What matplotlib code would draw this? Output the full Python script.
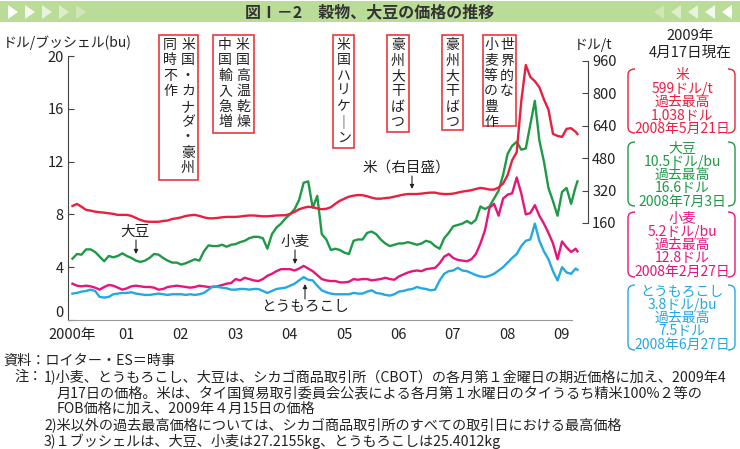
import numpy as np
import matplotlib
matplotlib.use('Agg')
import matplotlib.pyplot as plt
from matplotlib.patches import FancyBboxPatch, Rectangle, Polygon, FancyArrowPatch, PathPatch
from matplotlib.path import Path
from matplotlib.transforms import IdentityTransform

plt.rcParams['font.family'] = ['Noto Sans CJK JP', 'DejaVu Sans']

W, H = 740, 449

# ---------------- data ----------------
year_ticks = list(range(2000, 2010))
year_labels = ['2000年', '01', '02', '03', '04', '05', '06', '07', '08', '09']
left_ticks = [0, 4, 8, 12, 16, 20]
right_ticks = [160, 320, 480, 640, 800, 960]

# rice (USD/t, right axis), monthly Jan 2000 - Apr 2009 + 2009-04-15
rice = [244, 254, 240, 225, 221, 216, 213, 211, 208, 205, 200, 200,
        200, 195, 185, 175, 168, 166, 166, 166, 170, 172, 180, 183,
        188, 195, 198, 200, 195, 188, 183, 183, 185, 188, 190, 190,
        190, 192, 195, 197, 197, 195, 193, 193, 195, 197, 198, 198,
        205, 215, 228, 235, 240, 238, 232, 228, 230, 238, 255, 270,
        280, 290, 295, 298, 297, 292, 285, 280, 280, 283, 285, 290,
        295, 300, 303, 303, 303, 305, 308, 310, 310, 305, 303, 303,
        305, 310, 315, 318, 322, 328, 333, 330, 325, 325, 335, 355,
        397, 470, 510, 760, 940, 881, 860, 830, 770, 720, 600, 590,
        585, 625, 628, 610, 599]

# soybean (USD/bu)
soy = [4.65, 5.0, 4.95, 5.35, 5.35, 5.15, 4.8, 4.45, 4.85, 4.75, 4.85, 5.05,
       4.85, 4.7, 4.5, 4.4, 4.5, 4.7, 5.0, 4.95, 4.7, 4.5, 4.35, 4.35,
       4.2, 4.3, 4.45, 4.6, 4.5, 5.2, 5.65, 5.6, 5.6, 5.7, 5.55, 5.7,
       5.75, 5.9, 6.0, 6.2, 6.3, 6.3, 6.2, 5.4, 6.5, 7.0, 7.3, 7.7,
       8.0, 8.4, 9.1, 10.4, 10.5, 8.5, 9.4, 6.5, 6.1, 5.3, 5.4, 5.3,
       5.1, 5.0, 6.0, 6.1, 6.1, 6.6, 6.7, 6.5, 6.1, 5.8, 5.6, 5.7,
       5.8, 5.8, 5.9, 5.8, 5.7, 5.8, 6.0, 5.9, 5.6, 5.4, 6.2, 6.6,
       7.1, 7.2, 7.3, 7.5, 7.3, 7.6, 8.6, 8.4, 8.6, 9.2, 9.8, 11.0,
       12.6, 13.2, 13.5, 12.9, 13.0, 14.8, 16.6, 13.6, 12.0, 10.0, 9.0, 7.9,
       9.7, 10.0, 8.8, 10.1, 10.5]

# wheat (USD/bu)
wheat = [2.75, 2.6, 2.55, 2.6, 2.55, 2.45, 2.3, 2.5, 2.65, 2.6, 2.45, 2.3,
         2.4, 2.55, 2.6, 2.55, 2.5, 2.5, 2.45, 2.3, 2.35, 2.5, 2.55, 2.6,
         2.55, 2.5, 2.45, 2.5, 2.6, 2.55, 2.5, 2.5, 2.55, 2.65, 2.75, 2.8,
         3.1, 3.0, 3.2, 3.1, 3.0, 2.95, 3.1, 3.35, 3.5, 3.7, 3.85, 3.85,
         3.85, 3.75, 3.9, 4.1, 3.9, 3.7, 3.4, 3.1, 3.0, 2.95, 2.95, 2.85,
         2.85, 2.9, 3.1, 3.05, 3.1, 3.1, 3.0, 3.05, 3.1, 3.2, 3.1, 3.05,
         3.3, 3.45, 3.6, 3.7, 3.75, 3.7, 3.85, 3.9, 3.95, 4.3, 4.8, 5.0,
         4.7, 4.55, 4.5, 4.45, 4.6, 5.0, 5.8, 6.8, 8.5, 8.8, 7.9, 9.2,
         9.5, 9.6, 10.8, 9.6, 8.0, 8.1, 8.7, 7.9, 7.3, 6.6, 5.8, 4.6,
         5.95, 5.5, 5.15, 5.4, 5.2]

# corn (USD/bu)
corn = [2.0, 2.05, 2.15, 2.2, 2.3, 2.2, 1.75, 1.7, 1.75, 1.95, 2.0, 2.05,
        2.05, 2.1, 2.0, 1.95, 1.9, 1.9, 1.95, 2.0, 1.95, 1.9, 1.95, 1.95,
        1.95, 1.9, 1.95, 1.9, 1.95, 2.05, 2.3, 2.55, 2.5, 2.45, 2.4, 2.3,
        2.3, 2.35, 2.35, 2.3, 2.35, 2.35, 2.2, 2.05, 2.2, 2.35, 2.4, 2.45,
        2.6, 2.75, 3.0, 3.25, 3.05, 3.0, 2.6, 2.25, 2.1, 2.0, 1.95, 1.95,
        1.95, 1.95, 2.05, 2.0, 2.0, 2.15, 2.25, 2.05, 2.0, 1.9, 1.85, 1.95,
        2.15, 2.2, 2.3, 2.35, 2.5, 2.4, 2.35, 2.25, 2.3, 3.0, 3.5, 3.7,
        3.75, 3.95, 3.75, 3.7, 3.55, 3.4, 3.3, 3.25, 3.35, 3.5, 3.75, 4.0,
        4.35, 4.7, 5.0, 5.6, 6.0, 6.1, 7.3, 6.0, 5.2, 4.6, 3.7, 3.0,
        4.0, 3.6, 3.5, 3.9, 3.8]

t = np.append(2000 + (np.arange(112) + 0.1) / 12, 2009 + 3.5 / 12)

C_RICE = '#e8203f'
C_SOY = '#1e9a46'
C_WHEAT = '#e6157a'
C_CORN = '#22a9e1'
C_BOX = '#e8383d'

fig = plt.figure(figsize=(W / 100, H / 100), dpi=100)
ID = IdentityTransform()


def fx(x):
    return x / W


def fy(y):
    return 1 - y / H


def ftext(x, y, s, **kw):
    kw.setdefault('ha', 'center')
    kw.setdefault('va', 'center')
    return fig.text(fx(x), fy(y), s, **kw)


# ---------------- title banner ----------------
fig.add_artist(Rectangle((0, H - 22), W, 21, transform=ID, fc='#b9dc97', ec='none'))
for i in range(5):
    a = 1.0 - i * 0.17
    cx = 13 + i * 17
    fig.add_artist(Polygon([(cx - 5, H - 5), (cx - 5, H - 19), (cx + 5, H - 12)],
                           closed=True, transform=ID, fc='white', ec='none', alpha=a))
    cx2 = W - 13 - i * 17
    fig.add_artist(Polygon([(cx2 + 5, H - 5), (cx2 + 5, H - 19), (cx2 - 5, H - 12)],
                           closed=True, transform=ID, fc='white', ec='none', alpha=a))
ftext(370, 12, '図Ⅰ－2　穀物、大豆の価格の推移', fontsize=11.5, fontweight='bold', color='#333333')

# ---------------- axes ----------------
ax = fig.add_axes([68 / W, 1 - 320 / H, 520 / W, 264 / H])
ax.set_xlim(2000 - 4 / 54.4, 2000 + 516 / 54.4)
ax.set_ylim(0, 20)
ax2 = ax.twinx()
ax2.set_ylim(-319, 984.5)

ax.plot(t, soy, color=C_SOY, lw=1.7, zorder=3)
ax.plot(t, wheat, color=C_WHEAT, lw=1.7, zorder=3)
ax.plot(t, corn, color=C_CORN, lw=1.7, zorder=3)
ax2.plot(t, rice, color=C_RICE, lw=1.7, zorder=2)

for s in ['top', 'right']:
    ax.spines[s].set_visible(False)
ax.spines['left'].set_color('#444444')
ax.spines['bottom'].set_color('#999999')
ax.spines['bottom'].set_bounds(2000 - 4 / 54.4, 2009.19)
ax.set_yticks(left_ticks)
ax.set_xticks(year_ticks)
ax.set_xticklabels(year_labels)
ax.tick_params(axis='y', direction='in', length=4, width=0.8, color='#444444',
               labelsize=10.5, pad=3, labelcolor='#222222')
ax.tick_params(axis='x', length=0, labelsize=10.5, pad=6, labelcolor='#222222')
# the "0" label sits slightly raised, as in the reference
ax.get_yticklabels()[0].set_verticalalignment('bottom')

for s in ['top', 'left', 'bottom']:
    ax2.spines[s].set_visible(False)
ax2.spines['right'].set_bounds(160, 960)
ax2.spines['right'].set_color('#444444')
ax2.set_yticks(right_ticks)
ax2.tick_params(axis='y', direction='in', length=4, width=0.8, color='#444444',
                labelsize=10.5, pad=3, labelcolor='#222222')
ax.patch.set_visible(False)

# axis unit labels
ftext(3, 43, 'ドル/ブッシェル(bu)', ha='left', fontsize=10, color='#222222')
ftext(593, 45, 'ドル/t', fontsize=10, color='#222222')

# ---------------- event boxes (vertical text) ----------------
def vcol(x, y0, s, dy=15.4, fs=10):
    for i, ch in enumerate(s):
        ftext(x, y0 + i * dy, ch, fontsize=fs, color='#222222')


def rbox(x0, y0, x1, y1, color, lw=1.2):
    p = Rectangle((x0, H - y1), x1 - x0, y1 - y0, transform=ID, fc='none', ec=color, lw=lw)
    fig.add_artist(p)


def brackets(x0, y0, x1, y1, color, r=6, lw=1.0):
    Y0, Y1 = H - y0, H - y1
    for sgn, xe in ((1, x0), (-1, x1)):
        verts = [(xe + sgn * (r + 1), Y0), (xe, Y0), (xe, Y0 - r),
                 (xe, Y1 + r), (xe, Y1), (xe + sgn * (r + 1), Y1)]
        codes = [Path.MOVETO, Path.CURVE3, Path.CURVE3,
                 Path.LINETO, Path.CURVE3, Path.CURVE3]
        fig.add_artist(PathPatch(Path(verts, codes), transform=ID, fc='none',
                                 ec=color, lw=lw))


rbox(159, 35, 198, 180, C_BOX)
vcol(188, 45, '米国・カナダ・豪州')
vcol(170, 45, '同時不作')

rbox(213, 35, 254, 133, C_BOX)
vcol(243, 45, '米国高温乾燥')
vcol(225, 45, '中国輸入急増')

rbox(333, 35, 354, 148, C_BOX)
vcol(343.5, 45, '米国ハリケ｜ン')

rbox(387, 35, 409, 132, C_BOX)
vcol(398, 45, '豪州大干ばつ')

rbox(442, 35, 463, 130, C_BOX)
vcol(452.5, 45, '豪州大干ばつ')

rbox(483, 35, 516, 126, C_BOX)
vcol(507, 45, '世界的な')
vcol(491, 45, '小麦等の豊作')

# ---------------- inline labels ----------------
def arrow(x, y0, y1):
    fig.add_artist(FancyArrowPatch((x, H - y0), (x, H - y1), transform=ID,
                                   arrowstyle='-|>', mutation_scale=6, lw=0.8,
                                   color='#222222', shrinkA=0, shrinkB=0))


ftext(135, 232, '大豆', fontsize=10.5, color='#222222')
arrow(136, 240, 254)
ftext(295, 242, '小麦', fontsize=10.5, color='#222222')
arrow(295, 250, 264)
ftext(305, 307, 'とうもろこし', fontsize=10.5, color='#222222')
arrow(305, 299, 284)
ftext(406, 168, '米（右目盛）', fontsize=10.5, color='#222222')
arrow(412, 176, 189)

# ---------------- right-side legend boxes ----------------
ftext(690, 36, '2009年', fontsize=10.5, color='#222222')
ftext(690, 53, '4月17日現在', fontsize=10.5, color='#222222')

legend_items = [
    (C_RICE, 69, 133, ['米', '599ドル/t', '過去最高', '1,038ドル', '2008年5月21日']),
    (C_SOY, 142, 206, ['大豆', '10.5ドル/bu', '過去最高', '16.6ドル', '2008年7月3日']),
    (C_WHEAT, 212, 277, ['小麦', '5.2ドル/bu', '過去最高', '12.8ドル', '2008年2月27日']),
    (C_CORN, 285, 350, ['とうもろこし', '3.8ドル/bu', '過去最高', '7.5ドル', '2008年6月27日']),
]
for col, y0, y1, lines in legend_items:
    brackets(628, y0, 735, y1, col)
    for i, s in enumerate(lines):
        ftext(682, y0 + 6.5 + i * 13.3, s, fontsize=10, color=col)

# ---------------- notes ----------------
NC = '#222222'
NF = 10.2
ftext(3, 361, '資料：ロイター・ES＝時事', ha='left', fontsize=NF, color=NC)
ftext(14, 377, '注：', ha='left', fontsize=NF, color=NC)
ftext(44, 377, '1)小麦、とうもろこし、大豆は、シカゴ商品取引所（CBOT）の各月第１金曜日の期近価格に加え、2009年4',
      ha='left', fontsize=NF, color=NC)
ftext(57, 393, '月17日の価格。米は、タイ国貿易取引委員会公表による各月第１水曜日のタイうるち精米100%２等の',
      ha='left', fontsize=NF, color=NC)
ftext(57, 409, 'FOB価格に加え、2009年４月15日の価格', ha='left', fontsize=NF, color=NC)
ftext(44, 425, '2)米以外の過去最高価格については、シカゴ商品取引所のすべての取引日における最高価格',
      ha='left', fontsize=NF, color=NC)
ftext(44, 441, '3)１ブッシェルは、大豆、小麦は27.2155kg、とうもろこしは25.4012kg',
      ha='left', fontsize=NF, color=NC)

fig.savefig('out.png', dpi=100)
